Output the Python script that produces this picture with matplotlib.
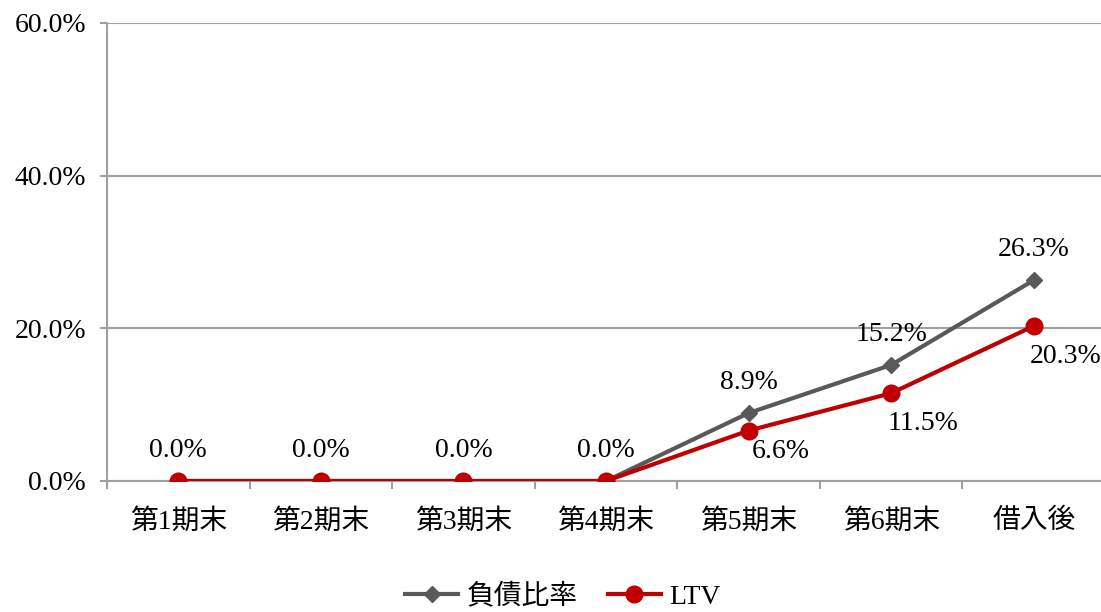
import matplotlib.pyplot as plt
from matplotlib.ticker import FuncFormatter

plt.rcParams['font.family'] = ['Liberation Serif', 'Noto Sans CJK JP']

periods = ['第1期末', '第2期末', '第3期末', '第4期末', '第5期末', '第6期末', '借入後']
debt_ratio = [0.0, 0.0, 0.0, 0.0, 8.9, 15.2, 26.3]
ltv = [0.0, 0.0, 0.0, 0.0, 6.6, 11.5, 20.3]

W, H = 1101, 612
fig = plt.figure(figsize=(W / 100, H / 100), dpi=100)
# plot area in pixels: left 107, right ~1105 (runs off the edge), top 23, bottom 481
ax = fig.add_axes([107 / W, (H - 481) / H, (1105 - 107) / W, (481 - 23) / H])

x = list(range(len(periods)))
ax.plot(x, debt_ratio, '-D', color='#595959', lw=3, ms=8, label='負債比率', zorder=3)
ax.plot(x, ltv, '-o', color='#C00000', lw=3, ms=12, label='LTV', zorder=4)

# labels: debt ratio above, LTV below-right (zeros only once, above)
ltv_dy = {4: -6}
for i, (d, l) in enumerate(zip(debt_ratio, ltv)):
    ax.annotate(f'{d:.1f}%', (i, d), xytext=(0, 13), textcoords='offset points',
                ha='center', va='bottom', fontsize=20)
    if l > 0:
        ax.annotate(f'{l:.1f}%', (i, l), xytext=(23, ltv_dy.get(i, -13)),
                    textcoords='offset points', ha='center', va='top', fontsize=20)

ax.set_xlim(-0.5, 6.5)
ax.set_ylim(0, 60)
ax.set_yticks([0, 20, 40, 60])
ax.yaxis.set_major_formatter(FuncFormatter(lambda v, p: f'{v:.1f}%'))
ax.grid(axis='y', color='#a0a0a0', lw=1.5)
ax.set_axisbelow(True)

ax.set_xticks(x)
ax.set_xticklabels(periods, fontsize=20)
ax.set_xticks([i + 0.5 for i in range(-1, 7)], minor=True)
ax.tick_params(axis='x', which='major', length=0, pad=20)
ax.tick_params(axis='x', which='minor', length=6, width=1.5, color='#a0a0a0')
ax.tick_params(axis='y', length=5, width=1.5, color='#a0a0a0', labelsize=20, pad=10)

for s in ['top', 'right']:
    ax.spines[s].set_visible(False)
ax.spines['left'].set_color('#a0a0a0')
ax.spines['left'].set_linewidth(1.5)
ax.spines['bottom'].set_color('#a0a0a0')
ax.spines['bottom'].set_linewidth(1.5)

fig.legend(loc='center', bbox_to_anchor=(563 / W, 1 - 597 / H), ncol=2, frameon=False,
           fontsize=20, handlelength=1.9, columnspacing=1.1, handletextpad=0.3,
           borderaxespad=0)

fig.savefig('out.png', dpi=100)
